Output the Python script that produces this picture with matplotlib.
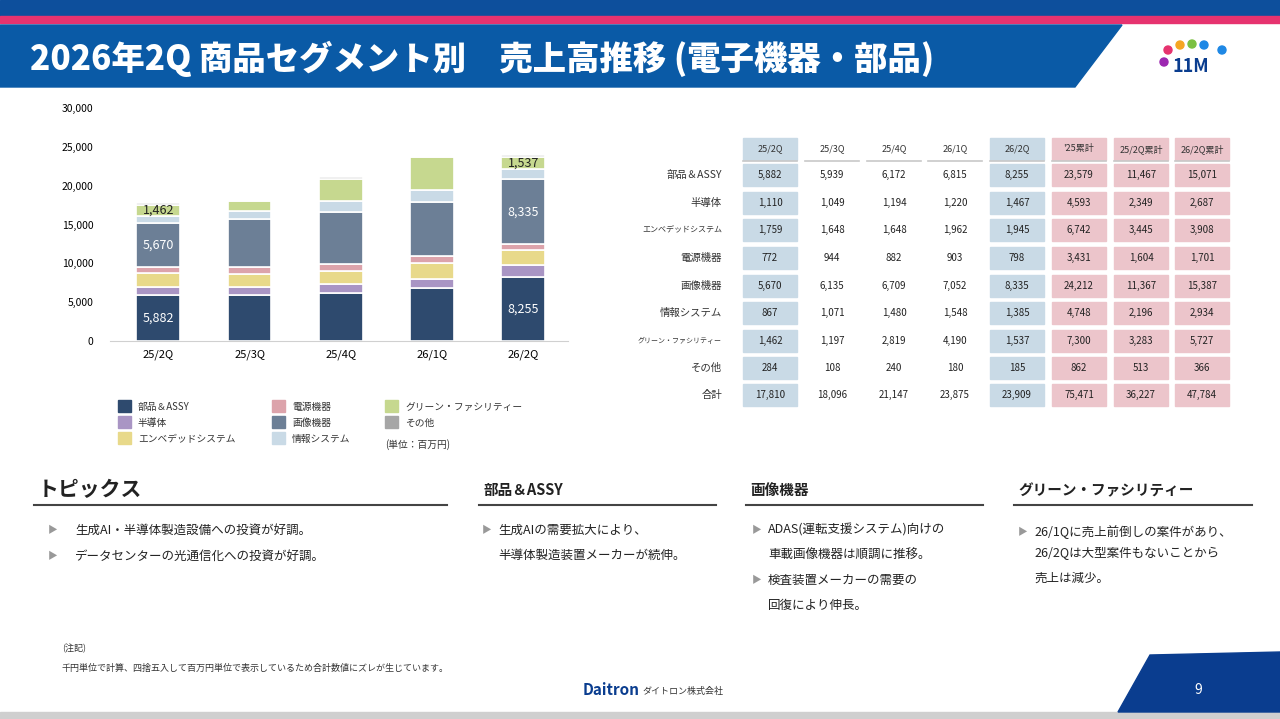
import matplotlib
matplotlib.use("Agg")
import matplotlib.pyplot as plt
from matplotlib.patches import Rectangle, Polygon
import numpy as np

plt.rcParams["font.family"] = ["Noto Sans CJK JP", "DejaVu Sans"]

quarters = ["25/2Q", "25/3Q", "25/4Q", "26/1Q", "26/2Q"]
segments = ["部品＆ASSY", "半導体", "エンベデッドシステム", "電源機器", "画像機器",
            "情報システム", "グリーン・ファシリティー", "その他"]
values = [
    [5882, 5939, 6172, 6815, 8255],
    [1110, 1049, 1194, 1220, 1467],
    [1759, 1648, 1648, 1962, 1945],
    [772, 944, 882, 903, 798],
    [5670, 6135, 6709, 7052, 8335],
    [867, 1071, 1480, 1548, 1385],
    [1462, 1197, 2819, 4190, 1537],
    [284, 108, 240, 180, 185],
]
totals = [17810, 18096, 21147, 23875, 23909]
cum_headers = ["'25累計", "25/2Q累計", "26/2Q累計"]
cum_values = [
    [23579, 11467, 15071], [4593, 2349, 2687], [6742, 3445, 3908], [3431, 1604, 1701],
    [24212, 11367, 15387], [4748, 2196, 2934], [7300, 3283, 5727], [862, 513, 366],
]
cum_totals = [75471, 36227, 47784]
colors = ["#2e4a6e", "#a995c4", "#e8d98a", "#dca3ab", "#6c7f96", "#c9dae6", "#c6d88f", "#a6a6a6"]

W, H = 1280, 719
fig = plt.figure(figsize=(12.8, 7.19), dpi=100)
bg = fig.add_axes([0, 0, 1, 1])
bg.set_xlim(0, W); bg.set_ylim(H, 0); bg.axis("off")

# header band
bg.add_patch(Rectangle((0, 0), W, 16, color="#0d4f9c"))
bg.add_patch(Rectangle((0, 16), W, 7, color="#e6336f"))
bg.add_patch(Polygon([(0, 25), (1122, 25), (1075, 87), (0, 87)], color="#0a5aa6"))
bg.text(30, 59, "2026年2Q 商品セグメント別　売上高推移 (電子機器・部品)", color="white",
        fontsize=24, fontweight="heavy", va="center")
# logo dots
for (lx, ly, c) in [(1168, 50, "#e6336f"), (1180, 45, "#f5a623"), (1192, 44, "#7bc043"),
                    (1204, 45, "#1e88e5"), (1164, 62, "#9c27b0"), (1222, 50, "#1e88e5")]:
    bg.add_patch(plt.Circle((lx, ly), 4, color=c))
bg.text(1172, 66, "11M", color="#0a3d8f", fontsize=13, fontweight="bold", va="center")

# bottom
bg.add_patch(Rectangle((0, 712), W, 7, color="#cfcfcf"))
bg.add_patch(Polygon([(1150, 655), (W, 652), (W, 712), (1118, 712)], color="#0a3d8f"))
bg.text(1198, 690, "9", color="white", fontsize=10, ha="center", va="center")
bg.text(640, 690, "Daitron", color="#0a3d8f", fontsize=11, fontweight="bold",
        fontstyle="italic", ha="right", va="center")
bg.text(642, 691, "ダイトロン株式会社", color="#333333", fontsize=6.5, ha="left", va="center")
bg.text(62, 648, "(注記)", fontsize=6.5, color="#333333", va="center")
bg.text(62, 668, "千円単位で計算、四捨五入して百万円単位で表示しているため合計数値にズレが生じています。",
        fontsize=6.5, color="#333333", va="center")

# chart
ax = fig.add_axes([110 / W, 1 - 341 / H, 458 / W, 233 / H])
x = np.arange(len(quarters))
bottom = np.zeros(len(quarters))
for name, vals, c in zip(segments, values, colors):
    ax.bar(x, vals, 0.48, bottom=bottom, color=c, edgecolor="white", linewidth=1.2, label=name)
    bottom += np.array(vals)
ax.set_xlim(-0.53, 4.49)
ax.set_ylim(0, 30000)
ax.set_yticks(range(0, 30001, 5000))
ax.set_yticklabels([f"{v:,}" for v in range(0, 30001, 5000)], fontsize=7.5)
ax.set_xticks(x)
ax.set_xticklabels(quarters, fontsize=8)
ax.tick_params(length=0, pad=6)
ax.tick_params(axis="y", pad=12)
for s in ["top", "right", "left"]:
    ax.spines[s].set_visible(False)
ax.spines["bottom"].set_color("#d0d0d0")
ax.patch.set_alpha(0)
cum = np.cumsum(values, axis=0)
for i in [0, 4]:
    ax.text(i, values[0][i] / 2, f"{values[0][i]:,}", color="white", ha="center", va="center", fontsize=9)
    ax.text(i, cum[3][i] + values[4][i] / 2, f"{values[4][i]:,}", color="white", ha="center", va="center", fontsize=9)
    ax.text(i, cum[5][i] + values[6][i] / 2, f"{values[6][i]:,}", color="#222222", ha="center", va="center", fontsize=9)

# legend
for k, (name, c) in enumerate(zip(segments, colors)):
    col, row = divmod(k, 3)
    lx = [118, 272, 385][col]
    ly = 406 + row * 16
    bg.add_patch(Rectangle((lx, ly - 6), 13, 12, color=c))
    bg.text(lx + 20, ly + 1, name, fontsize=7, va="center", color="#333333")
bg.text(385, 445, "(単位：百万円)", fontsize=7, va="center", color="#333333")

# table
col_x = [770, 832, 894, 955, 1017, 1079, 1141, 1202]
headers = quarters + cum_headers
row_y = [175, 203, 230, 258, 286, 313, 341, 368, 395]
cw, ch = 54, 22
blue, pink = "#c9dae6", "#ecc5cb"
for j, (cx, h) in enumerate(zip(col_x, headers)):
    fill = blue if j in (0, 4) else (pink if j >= 5 else None)
    if fill:
        bg.add_patch(Rectangle((cx - cw / 2, 149 - ch / 2), cw, ch, color=fill))
    bg.plot([cx - cw / 2, cx + cw / 2], [161, 161], color="#c8c8c8", lw=1.2)
    bg.text(cx, 149, h, fontsize=6.5, ha="center", va="center", color="#333333")
rows = segments + ["合計"]
for i, (ry, name) in enumerate(zip(row_y, rows)):
    fs = 5 if name == "グリーン・ファシリティー" else (5.8 if name == "エンベデッドシステム" else 7.5)
    bg.text(722, ry, name, fontsize=fs, ha="right", va="center", color="#333333")
    qv = values[i] if i < 8 else totals
    cv = cum_values[i] if i < 8 else cum_totals
    for j, (cx, v) in enumerate(zip(col_x, list(qv) + list(cv))):
        fill = blue if j in (0, 4) else (pink if j >= 5 else None)
        if fill:
            bg.add_patch(Rectangle((cx - cw / 2, ry - ch / 2), cw, ch, color=fill))
        bg.text(cx, ry, f"{v:,}", fontsize=7, ha="center", va="center", color="#222222")

# topics
sections = [
    (38, 447, "トピックス", 15, [(48, 530, "▶", "生成AI・半導体製造設備への投資が好調。"),
                                 (48, 556, "▶", "データセンターの光通信化への投資が好調。")]),
    (483, 716, "部品＆ASSY", 10.5, [(482, 530, "▶", "生成AIの需要拡大により、"),
                                     (482, 555, "", "半導体製造装置メーカーが続伸。")]),
    (750, 983, "画像機器", 10.5, [(752, 530, "▶", "ADAS(運転支援システム)向けの"),
                                   (752, 555, "", "車載画像機器は順調に推移。"),
                                   (752, 580, "▶", "検査装置メーカーの需要の"),
                                   (752, 605, "", "回復により伸長。")]),
    (1018, 1252, "グリーン・ファシリティー", 10.5, [(1018, 532, "▶", "26/1Qに売上前倒しの案件があり、"),
                                                   (1018, 553, "", "26/2Qは大型案件もないことから"),
                                                   (1018, 578, "", "売上は減少。")]),
]
for sx, ex, title, fs, lines in sections:
    bg.text(sx, 490, title, fontsize=fs, fontweight="bold", va="center", color="#222222")
    bg.plot([sx - 4, ex], [505, 505], color="#444444", lw=1.5)
    for tx, ty, mark, txt in lines:
        if mark:
            bg.text(tx, ty, mark, fontsize=7, color="#999999", va="center")
        off = 27 if tx < 100 else 16
        bg.text(tx + off, ty, txt, fontsize=9, va="center", color="#222222")

fig.savefig("out.png", dpi=100)
